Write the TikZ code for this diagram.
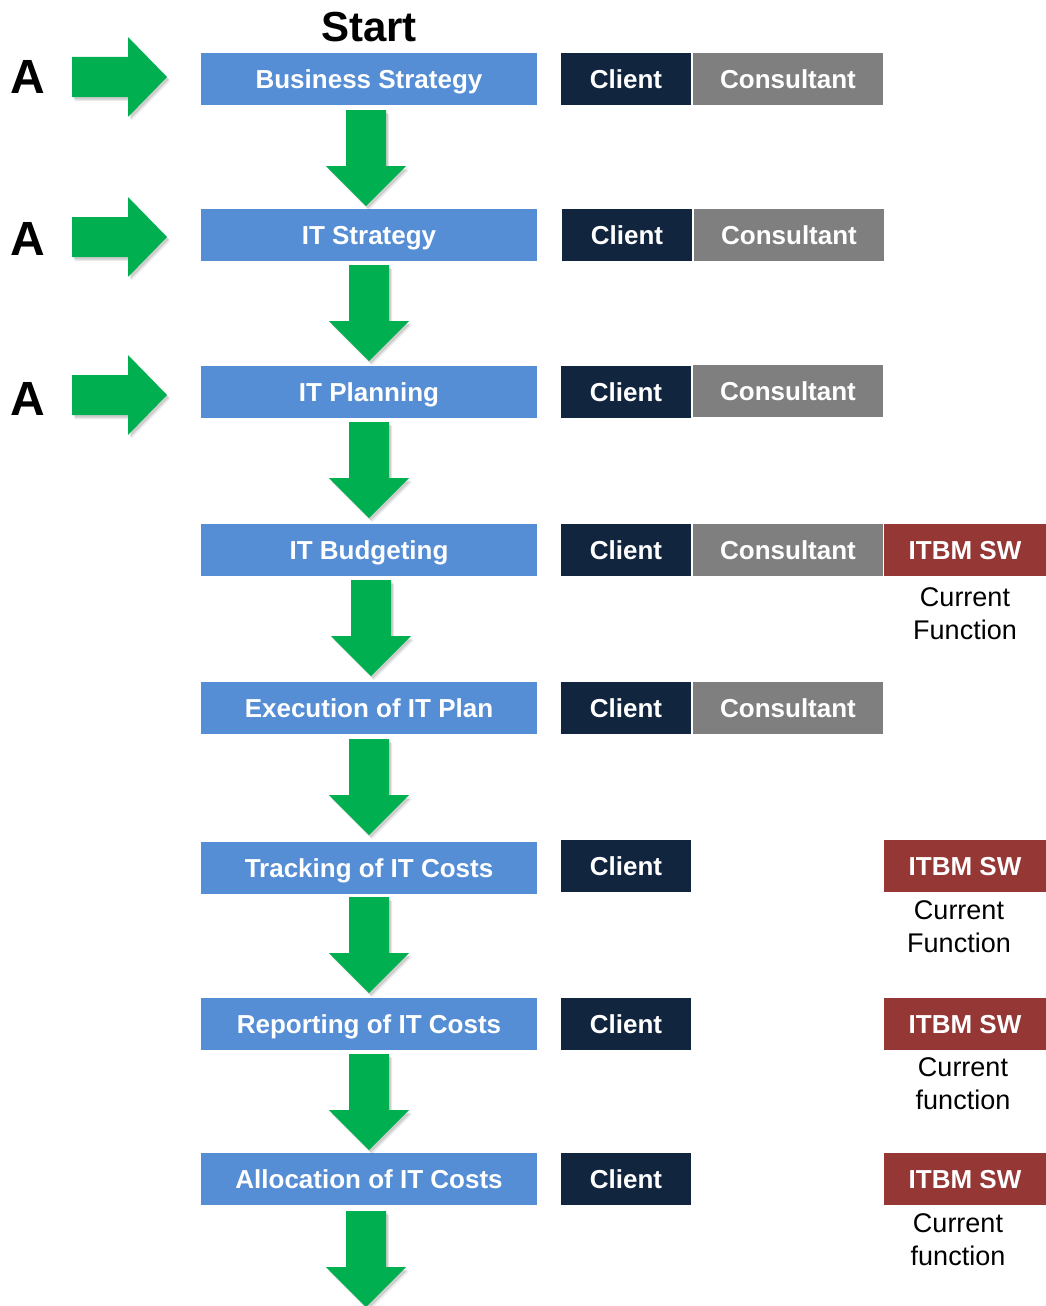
\documentclass[tikz,border=0pt]{standalone}
\usepackage{fontspec}
\setmainfont{Liberation Sans}
\usetikzlibrary{shadows,calc}
\definecolor{gblue}{HTML}{558ED5}
\definecolor{gnavy}{HTML}{11253F}
\definecolor{ggrey}{HTML}{7F7F7F}
\definecolor{gred}{HTML}{953735}
\definecolor{ggreen}{HTML}{00B050}
\tikzset{
  boxbase/.style={text=white,font=\fontsize{26}{30}\selectfont\bfseries,minimum height=52pt,inner sep=0pt,text depth=0pt},
  stepbox/.style={boxbase,fill=gblue,minimum width=336pt},
  clientbox/.style={boxbase,fill=gnavy,minimum width=130pt},
  consbox/.style={boxbase,fill=ggrey,minimum width=190pt},
  itbmbox/.style={boxbase,fill=gred,minimum width=162pt},
  curfn/.style={align=center,font=\fontsize{27}{33}\selectfont,inner sep=0pt},
  garrow/.style={fill=ggreen,
    drop shadow={shadow xshift=3pt,shadow yshift=-4pt,opacity=0.08,fill=black},
    drop shadow={shadow xshift=2pt,shadow yshift=-2.5pt,opacity=0.12,fill=black}},
  letterA/.style={font=\fontsize{48}{50}\selectfont\bfseries,inner sep=0pt}
}
\newcommand{\dnarrow}[1]{%
  \path[garrow] (#1) ++(-20,0) -- ++(40,0) -- ++(0,56) -- ++(20,0) -- ++(-40,40) -- ++(-40,-40) -- ++(20,0) -- cycle;}
\newcommand{\rtarrow}[1]{%
  \path[garrow] (#1) ++(0,-20) -- ++(56,0) -- ++(0,-20) -- ++(39,40) -- ++(-39,40) -- ++(0,-20) -- ++(-56,0) -- cycle;}
\begin{document}
\begin{tikzpicture}[x=1pt,y=-1pt]
\useasboundingbox (0,0) rectangle (1046,1306);
\node[font=\fontsize{42}{44}\selectfont\bfseries,inner sep=0pt] (start) at (369,27) {Start};
% step boxes
\node[stepbox] (b1) at (369,79) {Business Strategy};
\node[stepbox] (b2) at (369,235) {IT Strategy};
\node[stepbox] (b3) at (369,392) {IT Planning};
\node[stepbox] (b4) at (369,550) {IT Budgeting};
\node[stepbox] (b5) at (369,708) {Execution of IT Plan};
\node[stepbox] (b6) at (369,868) {Tracking of IT Costs};
\node[stepbox] (b7) at (369,1024) {Reporting of IT Costs};
\node[stepbox] (b8) at (369,1179) {Allocation of IT Costs};
% client
\node[clientbox] (c1) at (626,79) {Client};
\node[clientbox] (c2) at (627,235) {Client};
\node[clientbox] (c3) at (626,392) {Client};
\node[clientbox] (c4) at (626,550) {Client};
\node[clientbox] (c5) at (626,708) {Client};
\node[clientbox] (c6) at (626,866) {Client};
\node[clientbox] (c7) at (626,1024) {Client};
\node[clientbox] (c8) at (626,1179) {Client};
% consultant
\node[consbox] (k1) at (788,79) {Consultant};
\node[consbox] (k2) at (789,235) {Consultant};
\node[consbox] (k3) at (788,391) {Consultant};
\node[consbox] (k4) at (788,550) {Consultant};
\node[consbox] (k5) at (788,708) {Consultant};
% ITBM
\node[itbmbox] (i4) at (965,550) {ITBM SW};
\node[itbmbox] (i6) at (965,866) {ITBM SW};
\node[itbmbox] (i7) at (965,1024) {ITBM SW};
\node[itbmbox] (i8) at (965,1179) {ITBM SW};
\node[curfn,anchor=north] (f4) at (965,587) {Current\\Function};
\node[curfn,anchor=north] (f6) at (959,900) {Current\\Function};
\node[curfn,anchor=north] (f7) at (963,1057) {Current\\function};
\node[curfn,anchor=north] (f8) at (958,1213) {Current\\function};
% A letters
\node[letterA] (a1) at (28,77) {A};
\node[letterA] (a2) at (28,239) {A};
\node[letterA] (a3) at (28,399) {A};
% right arrows
\coordinate (r1) at (72,77);
\coordinate (r2) at (72,237);
\coordinate (r3) at (72,395);
\rtarrow{r1}\rtarrow{r2}\rtarrow{r3}
% down arrows
\coordinate (d1) at ($(b1.south)+(-3,5)$);
\coordinate (d2) at ($(b2.south)+(0,4)$);
\coordinate (d3) at ($(b3.south)+(0,4)$);
\coordinate (d4) at ($(b4.south)+(2,4)$);
\coordinate (d5) at ($(b5.south)+(0,5)$);
\coordinate (d6) at ($(b6.south)+(0,3)$);
\coordinate (d7) at ($(b7.south)+(0,4)$);
\coordinate (d8) at ($(b8.south)+(-3,6)$);
\dnarrow{d1}\dnarrow{d2}\dnarrow{d3}\dnarrow{d4}\dnarrow{d5}\dnarrow{d6}\dnarrow{d7}\dnarrow{d8}
\end{tikzpicture}
\end{document}
